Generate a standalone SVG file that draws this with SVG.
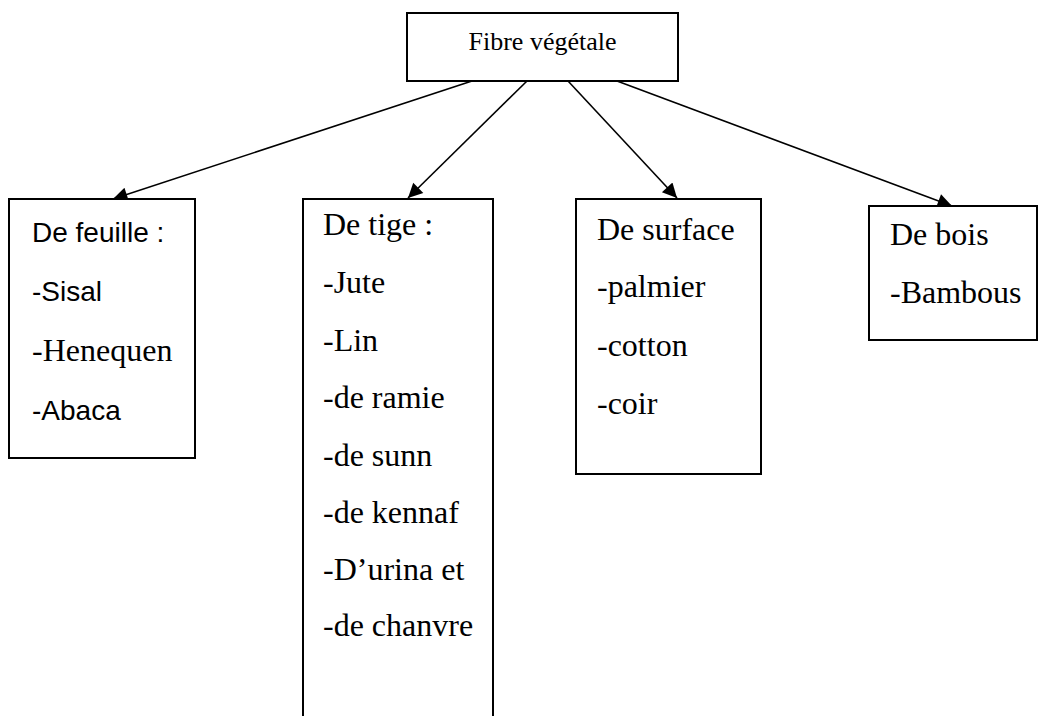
<svg xmlns="http://www.w3.org/2000/svg" width="1040" height="716" viewBox="0 0 1040 716">
<style>
.box{fill:#fff;stroke:#000;stroke-width:2}
.serif{font-family:"Liberation Serif","Times New Roman",serif;font-size:32px;fill:#000}
.sans{font-family:"Liberation Sans",Arial,sans-serif;font-size:28px;fill:#000}
.title{font-family:"Liberation Serif","Times New Roman",serif;font-size:26px;fill:#000}
.conn{stroke:#000;stroke-width:1.6;fill:none;marker-end:url(#ah)}
</style>
<defs>
<marker id="ah" viewBox="0 0 10 10" refX="10" refY="5" markerWidth="11" markerHeight="9" markerUnits="strokeWidth" orient="auto">
<path d="M0,0 L10,5 L0,10 Z" fill="#000"/>
</marker>
</defs>
<rect width="1040" height="716" fill="#fff"/>
<g id="connectors">
<line class="conn" x1="472" y1="81" x2="113" y2="199"/>
<line class="conn" x1="527" y1="81" x2="408" y2="198"/>
<line class="conn" x1="568" y1="81" x2="677" y2="198"/>
<line class="conn" x1="617" y1="81" x2="952" y2="206"/>
</g>
<g id="node-root">
<rect class="box" x="407" y="13" width="271" height="68"/>
<text class="title" x="542.5" y="50" text-anchor="middle">Fibre végétale</text>
</g>
<g id="node-feuille">
<rect class="box" x="9" y="199" width="186" height="259"/>
<text class="sans" x="32" y="242">De feuille :</text>
<text class="sans" x="32" y="301">-Sisal</text>
<text class="serif" x="32" y="361">-Henequen</text>
<text class="sans" x="32" y="420">-Abaca</text>
</g>
<g id="node-tige">
<path class="box" d="M303,720 L303,199 L493,199 L493,720"/>
<text class="serif" x="323" y="235">De tige :</text>
<text class="serif" x="323" y="293">-Jute</text>
<text class="serif" x="323" y="351">-Lin</text>
<text class="serif" x="323" y="408">-de ramie</text>
<text class="serif" x="323" y="466">-de sunn</text>
<text class="serif" x="323" y="523">-de kennaf</text>
<text class="serif" x="323" y="580">-D’urina et</text>
<text class="serif" x="323" y="636">-de chanvre</text>
</g>
<g id="node-surface">
<rect class="box" x="576" y="199" width="185" height="275"/>
<text class="serif" x="597" y="240">De surface</text>
<text class="serif" x="597" y="297">-palmier</text>
<text class="serif" x="597" y="356">-cotton</text>
<text class="serif" x="597" y="414">-coir</text>
</g>
<g id="node-bois">
<rect class="box" x="869" y="206" width="168" height="134"/>
<text class="serif" x="890" y="245">De bois</text>
<text class="serif" x="890" y="303">-Bambous</text>
</g>
</svg>
